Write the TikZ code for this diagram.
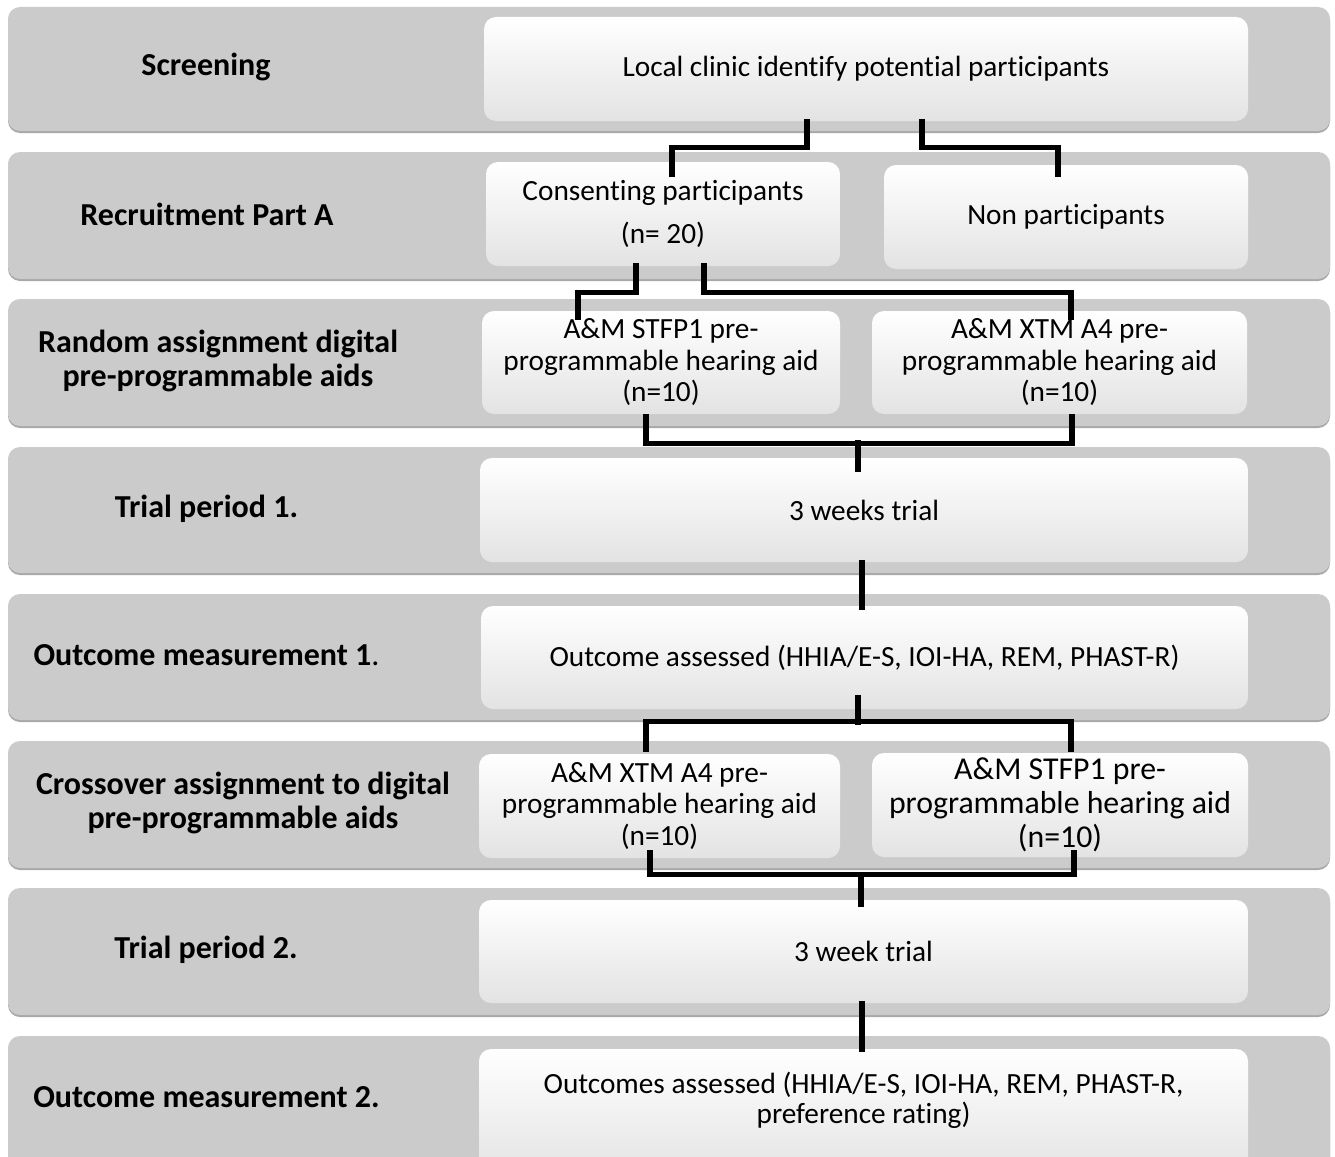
\documentclass[tikz,border=0pt]{standalone}
\usepackage{fontspec}
\setmainfont{Carlito}[Ligatures=NoCommon]
\begin{document}
\begin{tikzpicture}[x=1pt,y=-1pt,
  band/.style={rounded corners=12pt, fill=bandgray, draw=none, minimum width=1322pt, inner sep=0pt},
  wbox/.style={rounded corners=12pt, draw=none, top color=white, middle color=white, bottom color=black!11,
     align=center, inner sep=0pt, font=\fontsize{29.3}{31.5}\selectfont},
  lab/.style={align=center, font=\fontsize{32}{34}\selectfont\bfseries},
  conn/.style={line width=5.2pt, draw=black, line cap=rect}]
\definecolor{bandgray}{HTML}{CBCBCB}
\definecolor{shadowgray}{HTML}{A8A8A8}
\clip (0,0) rectangle (1335,1156);
\fill[white] (0,0) rectangle (1335,1156);
% shadows of bands
\foreach \t/\b in {7/131,152/279,299/426,447/573,594/720,741/868,888/1015,1036/1175}
  \fill[shadowgray, rounded corners=12pt] (8,\t+2) rectangle (1330,\b+2);
% bands
\node[band, minimum height=124pt] (b1) at (669,69) {};
\node[band, minimum height=127pt] (b2) at (669,215.5) {};
\node[band, minimum height=127pt] (b3) at (669,362.5) {};
\node[band, minimum height=126pt] (b4) at (669,510) {};
\node[band, minimum height=126pt] (b5) at (669,657) {};
\node[band, minimum height=127pt] (b6) at (669,804.5) {};
\node[band, minimum height=127pt] (b7) at (669,951.5) {};
\node[band, minimum height=139pt] (b8) at (669,1105.5) {};
% left labels
\node[lab] (l1) at (206,67) {Screening};
\node[lab] (l2) at (207,214) {Recruitment Part A};
\node[lab] (l3) at (218,361) {Random assignment digital\\pre-programmable aids};
\node[lab] (l4) at (206.5,509) {Trial period 1.};
\node[lab] (l5) at (206.5,655) {Outcome measurement 1\textmd{.}};
\node[lab] (l6) at (243,803) {Crossover assignment to digital\\pre-programmable aids};
\node[lab] (l7) at (206,950) {Trial period 2.};
\node[lab] (l8) at (206.5,1097) {Outcome measurement 2.};
% white boxes
\node[wbox, minimum width=764pt, minimum height=104pt] (w1) at (866,69) {Local clinic identify potential participants};
\node[wbox, minimum width=354pt, minimum height=104pt] (w2a) at (663,214) {Consenting participants\\[12pt](n= 20)};
\node[wbox, minimum width=364pt, minimum height=104pt] (w2b) at (1066,217) {Non participants};
\node[wbox, minimum width=358pt, minimum height=103pt] (w3a) at (661,362.5) {A\&M STFP1 pre-\\programmable hearing aid\\(n=10)};
\node[wbox, minimum width=375pt, minimum height=103pt] (w3b) at (1059.5,362.5) {A\&M XTM A4 pre-\\programmable hearing aid\\(n=10)};
\node[wbox, minimum width=768pt, minimum height=104pt] (w4) at (864,510) {3 weeks trial};
\node[wbox, minimum width=767pt, minimum height=103pt] (w5) at (864.5,657.5) {Outcome assessed (HHIA/E-S, IOI-HA, REM, PHAST-R)};
\node[wbox, minimum width=361pt, minimum height=104pt] (w6a) at (659.5,806) {A\&M XTM A4 pre-\\programmable hearing aid\\(n=10)};
\node[wbox, minimum width=376pt, minimum height=104pt, font=\fontsize{31.8}{34}\selectfont] (w6b) at (1060,805) {A\&M STFP1 pre-\\programmable hearing aid\\(n=10)};
\node[wbox, minimum width=769pt, minimum height=103pt] (w7) at (863.5,951.5) {3 week trial};
\node[wbox, minimum width=769pt, minimum height=130pt] (w8) at (863.5,1114) {};
\node[align=center, font=\fontsize{29.3}{30}\selectfont] (t8) at (863.5,1100) {Outcomes assessed (HHIA/E-S, IOI-HA, REM, PHAST-R,\\preference rating)};
% connectors
\draw[conn] ([xshift=-59pt]w1.south) -- ++(0,26) -| ([xshift=9pt,yshift=-13pt]w2a.north);
\draw[conn] ([xshift=56pt]w1.south) -- ++(0,26) -| ([xshift=-8pt,yshift=-10pt]w2b.north);
\draw[conn] ([xshift=-27pt,yshift=1pt]w2a.south) -- ++(0,27) -| ([xshift=-83pt,yshift=-7pt]w3a.north);
\draw[conn] ([xshift=41pt,yshift=1pt]w2a.south) -- ++(0,27) -| ([xshift=11.5pt,yshift=-7pt]w3b.north);
\draw[conn] ([xshift=-15pt,yshift=-2pt]w3a.south) -- ++(0,27) -| ([xshift=12.5pt,yshift=-2pt]w3b.south);
\draw[conn] ([xshift=-6pt,yshift=15pt]w4.north) -- ([xshift=-6pt,yshift=-12pt]w4.north);
\draw[conn] ([xshift=-2pt]w4.south) -- ([xshift=-2.5pt,yshift=-2pt]w5.north);
\draw[conn] ([xshift=-6.5pt,yshift=12pt]w5.south) -- ++(0,25);
\draw[conn] ([xshift=-13.5pt,yshift=4pt]w6a.north) -- ++(0,-28) -| ([xshift=11pt,yshift=3pt]w6b.north);
\draw[conn] ([xshift=-9.5pt,yshift=6pt]w6a.south) -- ++(0,22) -| ([xshift=14pt,yshift=5pt]w6b.south);
\draw[conn] ([xshift=-2.5pt,yshift=20pt]w7.north) -- ([xshift=-2.5pt,yshift=-5pt]w7.north);
\draw[conn] ([xshift=-1.5pt]w7.south) -- ([xshift=-1.5pt,yshift=-1pt]w8.north);
\end{tikzpicture}
\end{document}
